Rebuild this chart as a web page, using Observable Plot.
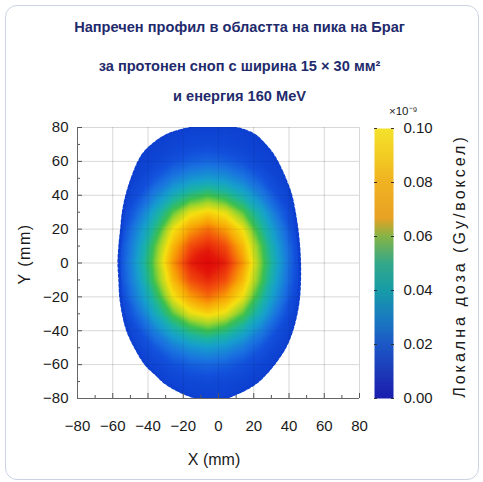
<!DOCTYPE html>
<html><head><meta charset="utf-8">
<script src="https://cdn.jsdelivr.net/npm/d3@7"></script>
<script src="https://cdn.jsdelivr.net/npm/@observablehq/plot@0.6"></script>
<style>
html,body{margin:0;padding:0;background:#fff;}
#root{position:relative;width:483px;height:482px;overflow:hidden;font-family:"Liberation Sans",Arial,sans-serif;}
#card{position:absolute;left:5px;top:5px;width:474px;height:475px;border:1.5px solid #cbd3e2;border-radius:12px;box-sizing:border-box;}
.t{position:absolute;white-space:nowrap;line-height:1;}
.title{font-weight:bold;font-size:14.6px;color:#1f2b6c;width:483px;left:-2px;text-align:center;}
.abs{position:absolute;left:0;top:0;}
</style></head><body><div id="root"><div id="card"></div></div>
<script>
// ---------- text ----------
const titleLines = ["Напречен профил в областта на пика на Браг", "за протонен сноп с ширина 15 × 30 мм²", "и енергия 160 MeV"];
const xLabel = "X (mm)";
const yLabel = "Y (mm)";
const cbLabel = "Локална доза  (Gy/воксел)";
const cbExponent = "×10⁻⁹";

// ---------- ticks ----------
const axisTicks = [-80, -60, -40, -20, 0, 20, 40, 60, 80];
const minorTicks = [-70, -50, -30, -10, 10, 30, 50, 70];
const cbTicks = [0, 0.02, 0.04, 0.06, 0.08, 0.10];

// ---------- dose grid (x10^-9 Gy/voxel) ----------
const gridX = [-66, -56, -46, -36, -26, -16, -6, 4, 14, 24, 34, 44, 54];
const gridY = [80, 70, 60, 50, 40, 30, 20, 10, 0, -10, -20, -30, -40, -50, -60, -70, -80];
const dose = [
  [0, 0, 0, 0, 0, 0.001, 0.001, 0.001, 0, 0, 0, 0, 0],
  [0, 0, 0, 0, 0.002, 0.004, 0.005, 0.004, 0.002, 0, 0, 0, 0],
  [0, 0, 0, 0.003, 0.008, 0.012, 0.014, 0.012, 0.008, 0.003, 0, 0, 0],
  [0, 0, 0.002, 0.010, 0.019, 0.026, 0.029, 0.026, 0.019, 0.010, 0.002, 0, 0],
  [0, 0, 0.007, 0.021, 0.035, 0.045, 0.050, 0.045, 0.035, 0.021, 0.007, 0, 0],
  [0, 0, 0.015, 0.034, 0.052, 0.064, 0.068, 0.064, 0.052, 0.034, 0.015, 0, 0],
  [0, 0.003, 0.023, 0.044, 0.065, 0.076, 0.082, 0.076, 0.065, 0.044, 0.023, 0.003, 0],
  [0, 0.006, 0.028, 0.052, 0.072, 0.086, 0.091, 0.086, 0.072, 0.052, 0.028, 0.006, 0],
  [0, 0.007, 0.031, 0.055, 0.077, 0.092, 0.100, 0.092, 0.077, 0.055, 0.031, 0.007, 0],
  [0, 0.006, 0.028, 0.052, 0.072, 0.086, 0.091, 0.086, 0.072, 0.052, 0.028, 0.006, 0],
  [0, 0.003, 0.023, 0.044, 0.065, 0.076, 0.082, 0.076, 0.065, 0.044, 0.023, 0.003, 0],
  [0, 0, 0.015, 0.034, 0.052, 0.064, 0.068, 0.064, 0.052, 0.034, 0.015, 0, 0],
  [0, 0, 0.007, 0.021, 0.035, 0.045, 0.050, 0.045, 0.035, 0.021, 0.007, 0, 0],
  [0, 0, 0.002, 0.010, 0.019, 0.026, 0.029, 0.026, 0.019, 0.010, 0.002, 0, 0],
  [0, 0, 0, 0.003, 0.008, 0.012, 0.014, 0.012, 0.008, 0.003, 0, 0, 0],
  [0, 0, 0, 0, 0.002, 0.004, 0.005, 0.004, 0.002, 0, 0, 0, 0],
  [0, 0, 0, 0, 0, 0.001, 0.001, 0.001, 0, 0, 0, 0, 0]
];

// ---------- outline of the irradiated region (mm) ----------
const edgeY     = [80, 78, 75, 70, 65, 60, 50, 40, 30, 20, 10, 0, -10, -20, -30, -40, -50, -60, -66, -70, -74, -77, -80];
const edgeLeft  = [-12, -22, -30, -37, -42, -45, -49, -52, -54, -55, -56, -56.5, -56, -55.5, -54, -51.5, -47, -41, -35, -31, -25, -19, -10];
const edgeRight = [6, 15, 21, 26, 30, 33, 37.5, 41, 43, 44.5, 45.5, 46, 46, 45.5, 44, 41.5, 37.5, 31, 26, 22, 16, 10, 2];

// ---------- colours ----------
const heatStops  = [0, 0.008, 0.017, 0.03, 0.04, 0.05, 0.058, 0.066, 0.076, 0.086, 0.093, 0.1];
const heatColors = ["#0d40d0", "#1250dc", "#1a72e0", "#16a0cc", "#1cb4a0", "#3cc050", "#a8d628", "#f6e010", "#f8a006", "#f24c0c", "#e41a0a", "#de0808"];
const cbStops  = [0, 0.01, 0.02, 0.03, 0.04, 0.05, 0.06, 0.067, 0.08, 0.09, 0.1];
const cbColors = ["#1a1cae", "#1c3ab8", "#1c58c6", "#1a7cc0", "#169ca8", "#34a88a", "#84b446", "#e8a224", "#f0b222", "#f2cc22", "#f4e22c"];
const edgeColor = "#0d40d0";

const FONT = "'Liberation Sans', Arial, sans-serif";
const root = document.getElementById("root");

// ---------- main heat map ----------
const points = [];
gridY.forEach((y, i) => gridX.forEach((x, j) => points.push({x, y, v: dose[i][j]})));
const edge = edgeY.map((y, i) => ({x: edgeRight[i], y}))
  .concat(edgeY.map((y, i) => ({x: edgeLeft[i], y})).reverse());

const main = Plot.plot({
  width: 370, height: 380,
  marginLeft: 77, marginRight: 11, marginTop: 27, marginBottom: 82,
  x: {domain: [-80, 80]},
  y: {domain: [-80, 80]},
  color: {type: "linear", domain: heatStops, range: heatColors, clamp: true},
  style: {fontFamily: FONT, fontSize: "15px", color: "#222", background: "transparent", overflow: "visible"},
  marks: [
    Plot.gridX(axisTicks, {stroke: "#000", strokeOpacity: 0.09}),
    Plot.gridY(axisTicks, {stroke: "#000", strokeOpacity: 0.09}),
    Plot.raster(points, {x: "x", y: "y", fill: "v", interpolate: "barycentric", x1: -80, x2: 80, y1: -80, y2: 80}),
    Plot.line(edge, {x: "x", y: "y", curve: "catmull-rom-closed", stroke: edgeColor, strokeWidth: 3, strokeDasharray: "2.6,2.4", clip: "frame"}),
    Plot.gridX(axisTicks, {stroke: "#000", strokeOpacity: 0.07}),
    Plot.gridY(axisTicks, {stroke: "#000", strokeOpacity: 0.07}),
    Plot.axisX(axisTicks, {tickSize: 0, tickPadding: 22, label: null, fill: "#1a1a1a"}),
    Plot.axisY(axisTicks, {tickSize: 0, tickPadding: 9, label: null, fill: "#1a1a1a"}),
    Plot.axisX(axisTicks, {tickSize: 5, dy: -5, tickFormat: () => "", label: null, stroke: "#555"}),
    Plot.axisX(minorTicks, {tickSize: 3, dy: -3, tickFormat: () => "", label: null, stroke: "#555"}),
    Plot.axisY(axisTicks, {tickSize: 5, dx: 5, tickFormat: () => "", label: null, stroke: "#555"}),
    Plot.axisY(minorTicks, {tickSize: 3, dx: 3, tickFormat: () => "", label: null, stroke: "#555"}),
    Plot.ruleX([-80], {stroke: "#666"}),
    Plot.ruleY([-80], {stroke: "#666"})
  ]
});
main.classList.add("abs");
main.style.top = "100px";
root.appendChild(main);

// clip the raster with the outline drawn by the line mark
(function clipRaster() {
  const ns = "http://www.w3.org/2000/svg";
  const linePath = main.querySelector('g[aria-label="line"] path');
  const rasterG = main.querySelector('g[aria-label="raster"]');
  if (!linePath || !rasterG) return;
  const defs = document.createElementNS(ns, "defs");
  const cp = document.createElementNS(ns, "clipPath");
  cp.setAttribute("id", "edgeClip");
  const p = document.createElementNS(ns, "path");
  p.setAttribute("d", linePath.getAttribute("d"));
  const tr = [linePath.parentNode.getAttribute("transform"), linePath.getAttribute("transform")].filter(Boolean).join(" ");
  if (tr) p.setAttribute("transform", tr);
  cp.appendChild(p); defs.appendChild(cp);
  main.insertBefore(defs, main.firstChild);
  rasterG.setAttribute("clip-path", "url(#edgeClip)");
})();

// ---------- colour bar ----------
const bar = Plot.plot({
  width: 123, height: 330,
  marginLeft: 14, marginRight: 90, marginTop: 28, marginBottom: 32,
  x: {domain: [0, 1], axis: null},
  y: {domain: [0, 0.1]},
  color: {type: "linear", domain: cbStops, range: cbColors},
  style: {fontFamily: FONT, fontSize: "15px", color: "#222", background: "transparent", overflow: "visible"},
  marks: [
    Plot.raster({fill: (x, y) => y, x1: 0, x2: 1, y1: 0, y2: 0.1}),
    Plot.axisY(cbTicks, {anchor: "right", tickSize: 0, tickPadding: 10, tickFormat: d3.format(".2f"), label: null, fill: "#1a1a1a"}),
    Plot.axisY(cbTicks, {anchor: "right", tickSize: 3, dx: -3, tickFormat: () => "", label: null, stroke: "#333"}),
    Plot.axisY(cbTicks, {anchor: "left", tickSize: 3, dx: 3, tickFormat: () => "", label: null, stroke: "#333"})
  ]
});
bar.classList.add("abs");
bar.style.left = "360px";
bar.style.top = "100px";
root.appendChild(bar);

// ---------- texts ----------
function addText(txt, css) {
  const d = document.createElement("div");
  d.className = "t";
  d.textContent = txt;
  Object.assign(d.style, css);
  root.appendChild(d);
  return d;
}
const titleTops = [20, 59, 89];
titleLines.forEach((s, i) => {
  const d = addText(s, {top: titleTops[i] + "px"});
  d.classList.add("title");
});
addText(xLabel, {left: "214px", top: "452px", fontSize: "16px", color: "#1a1a1a", transform: "translateX(-50%)"});
addText(yLabel, {left: "25px", top: "254px", fontSize: "16px", color: "#1a1a1a", letterSpacing: "1.5px",
  transform: "translate(-50%,-50%) rotate(-90deg)"});
addText(cbLabel, {left: "460px", top: "266px", fontSize: "16px", color: "#1a1a1a", letterSpacing: "3px",
  transform: "translate(-50%,-50%) rotate(-90deg)"});
addText(cbExponent, {left: "389px", top: "106px", fontSize: "11.5px", color: "#1a1a1a"});
</script>
</body></html>
